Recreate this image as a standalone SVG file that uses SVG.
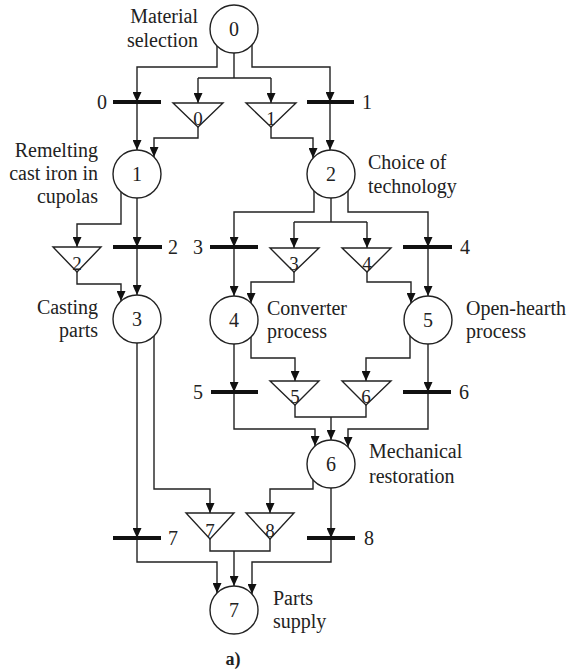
<svg xmlns="http://www.w3.org/2000/svg" width="570" height="672" viewBox="0 0 570 672">
<style>
text{font-family:"Liberation Serif","Times New Roman",serif;fill:#222}
.lbl{font-size:20px}
.num{font-size:20px;text-anchor:middle}
.tn{font-size:19px;text-anchor:middle}
.end{text-anchor:end}
.node{fill:#fff;stroke:#222;stroke-width:1.4}
.bar{stroke:#111;stroke-width:4}
.tri{fill:#fff;stroke:#222;stroke-width:1.4}
.c{fill:none;stroke:#222;stroke-width:1.4}
</style>
<defs>
<marker id="ah" markerUnits="userSpaceOnUse" markerWidth="10" markerHeight="9" refX="10" refY="4.5" orient="auto">
<path d="M0,0 L10,4.5 L0,9 z" fill="#111"/>
</marker>
</defs>
<rect width="570" height="672" fill="#fff"/>
<g id="connectors">
<path class="c" d="M217,46 V67 H137 V102" marker-end="url(#ah)"/>
<path class="c" d="M137,102 V150" marker-end="url(#ah)"/>
<path class="c" d="M234,53 V78"/>
<path class="c" d="M198,78 H271"/>
<path class="c" d="M198,78 V103" marker-end="url(#ah)"/>
<path class="c" d="M271,78 V103" marker-end="url(#ah)"/>
<path class="c" d="M252,45 V67 H330 V102" marker-end="url(#ah)"/>
<path class="c" d="M330,102 V150" marker-end="url(#ah)"/>
<path class="c" d="M198,127 V138 H154 V157" marker-end="url(#ah)"/>
<path class="c" d="M271,127 V138 H313 V158" marker-end="url(#ah)"/>
<path class="c" d="M121,192 V224 H77 V247" marker-end="url(#ah)"/>
<path class="c" d="M137,198 V247" marker-end="url(#ah)"/>
<path class="c" d="M137,247 V295" marker-end="url(#ah)"/>
<path class="c" d="M77,272 V284 H121 V301" marker-end="url(#ah)"/>
<path class="c" d="M314,191 V212 H234 V247" marker-end="url(#ah)"/>
<path class="c" d="M234,247 V296" marker-end="url(#ah)"/>
<path class="c" d="M331,198 V222"/>
<path class="c" d="M294,222 H367"/>
<path class="c" d="M294,222 V248" marker-end="url(#ah)"/>
<path class="c" d="M367,222 V248" marker-end="url(#ah)"/>
<path class="c" d="M348,191 V212 H428 V247" marker-end="url(#ah)"/>
<path class="c" d="M428,247 V296" marker-end="url(#ah)"/>
<path class="c" d="M294,272 V282 H251 V303" marker-end="url(#ah)"/>
<path class="c" d="M367,272 V282 H411 V303" marker-end="url(#ah)"/>
<path class="c" d="M234,344 V392" marker-end="url(#ah)"/>
<path class="c" d="M234,392 V429 H315 V446" marker-end="url(#ah)"/>
<path class="c" d="M251,337 V358 H295 V381" marker-end="url(#ah)"/>
<path class="c" d="M410,336 V358 H366 V381" marker-end="url(#ah)"/>
<path class="c" d="M428,344 V392" marker-end="url(#ah)"/>
<path class="c" d="M428,392 V429 H348 V447" marker-end="url(#ah)"/>
<path class="c" d="M295,405 V417 H366 V405"/>
<path class="c" d="M331,417 V440" marker-end="url(#ah)"/>
<path class="c" d="M137,343 V538" marker-end="url(#ah)"/>
<path class="c" d="M137,538 V562 H217 V593" marker-end="url(#ah)"/>
<path class="c" d="M154,336 V489 H210 V513" marker-end="url(#ah)"/>
<path class="c" d="M313,480 V489 H270 V513" marker-end="url(#ah)"/>
<path class="c" d="M331,488 V538" marker-end="url(#ah)"/>
<path class="c" d="M331,538 V562 H252 V594" marker-end="url(#ah)"/>
<path class="c" d="M210,539 V551 H270 V539"/>
<path class="c" d="M234,551 V586" marker-end="url(#ah)"/>
</g>
<g id="node0">
<circle class="node" cx="234" cy="29" r="24"/>
<text class="num" x="234" y="36">0</text>
<text class="lbl end" x="198" y="23">Material</text>
<text class="lbl end" x="198" y="47">selection</text>
</g>
<g id="node1">
<circle class="node" cx="137" cy="174" r="24"/>
<text class="num" x="137" y="181">1</text>
<text class="lbl end" x="98" y="157">Remelting</text>
<text class="lbl end" x="98" y="180">cast iron in</text>
<text class="lbl end" x="98" y="203">cupolas</text>
</g>
<g id="node2">
<circle class="node" cx="331" cy="174" r="24"/>
<text class="num" x="331" y="181">2</text>
<text class="lbl" x="368" y="169">Choice of</text>
<text class="lbl" x="368" y="193">technology</text>
</g>
<g id="node3">
<circle class="node" cx="137" cy="319" r="24"/>
<text class="num" x="137" y="326">3</text>
<text class="lbl end" x="98" y="314">Casting</text>
<text class="lbl end" x="98" y="337">parts</text>
</g>
<g id="node4">
<circle class="node" cx="234" cy="320" r="24"/>
<text class="num" x="234" y="327">4</text>
<text class="lbl" x="267" y="315">Converter</text>
<text class="lbl" x="267" y="338">process</text>
</g>
<g id="node5">
<circle class="node" cx="428" cy="320" r="24"/>
<text class="num" x="428" y="327">5</text>
<text class="lbl" x="466" y="315">Open-hearth</text>
<text class="lbl" x="466" y="338">process</text>
</g>
<g id="node6">
<circle class="node" cx="331" cy="464" r="24"/>
<text class="num" x="331" y="471">6</text>
<text class="lbl" x="369" y="458">Mechanical</text>
<text class="lbl" x="369" y="483">restoration</text>
</g>
<g id="node7">
<circle class="node" cx="234" cy="610" r="24"/>
<text class="num" x="234" y="617">7</text>
<text class="lbl" x="273" y="605">Parts</text>
<text class="lbl" x="273" y="628">supply</text>
</g>
<g id="bar0"><line class="bar" x1="113" y1="102" x2="161" y2="102"/><text class="lbl end" x="107" y="109">0</text></g>
<g id="bar1"><line class="bar" x1="307" y1="102" x2="354" y2="102"/><text class="lbl" x="362" y="109">1</text></g>
<g id="bar2"><line class="bar" x1="113" y1="247" x2="162" y2="247"/><text class="lbl" x="168" y="254">2</text></g>
<g id="bar3"><line class="bar" x1="210" y1="247" x2="258" y2="247"/><text class="lbl end" x="203" y="254">3</text></g>
<g id="bar4"><line class="bar" x1="403" y1="247" x2="452" y2="247"/><text class="lbl" x="460" y="254">4</text></g>
<g id="bar5"><line class="bar" x1="211" y1="392" x2="258" y2="392"/><text class="lbl end" x="203" y="399">5</text></g>
<g id="bar6"><line class="bar" x1="403" y1="392" x2="451" y2="392"/><text class="lbl" x="459" y="399">6</text></g>
<g id="bar7"><line class="bar" x1="113" y1="538" x2="161" y2="538"/><text class="lbl" x="168" y="545">7</text></g>
<g id="bar8"><line class="bar" x1="307" y1="538" x2="355" y2="538"/><text class="lbl" x="364" y="545">8</text></g>
<g id="tri0"><polygon class="tri" points="173,103 223,103 198,127"/><text class="tn" x="198" y="125">0</text></g>
<g id="tri1"><polygon class="tri" points="246,103 296,103 271,127"/><text class="tn" x="271" y="125">1</text></g>
<g id="tri2"><polygon class="tri" points="53,247 101,247 77,272"/><text class="tn" x="77" y="270">2</text></g>
<g id="tri3"><polygon class="tri" points="270,248 319,248 294,272"/><text class="tn" x="294" y="270">3</text></g>
<g id="tri4"><polygon class="tri" points="342,248 391,248 367,272"/><text class="tn" x="367" y="270">4</text></g>
<g id="tri5"><polygon class="tri" points="270,381 319,381 295,405"/><text class="tn" x="295" y="403">5</text></g>
<g id="tri6"><polygon class="tri" points="342,381 391,381 366,405"/><text class="tn" x="366" y="403">6</text></g>
<g id="tri7"><polygon class="tri" points="186,513 234,513 210,539"/><text class="tn" x="210" y="537">7</text></g>
<g id="tri8"><polygon class="tri" points="246,513 294,513 270,539"/><text class="tn" x="270" y="537">8</text></g>
<text x="233" y="665" style="font-size:18px;font-weight:bold;text-anchor:middle">a)</text>
</svg>
